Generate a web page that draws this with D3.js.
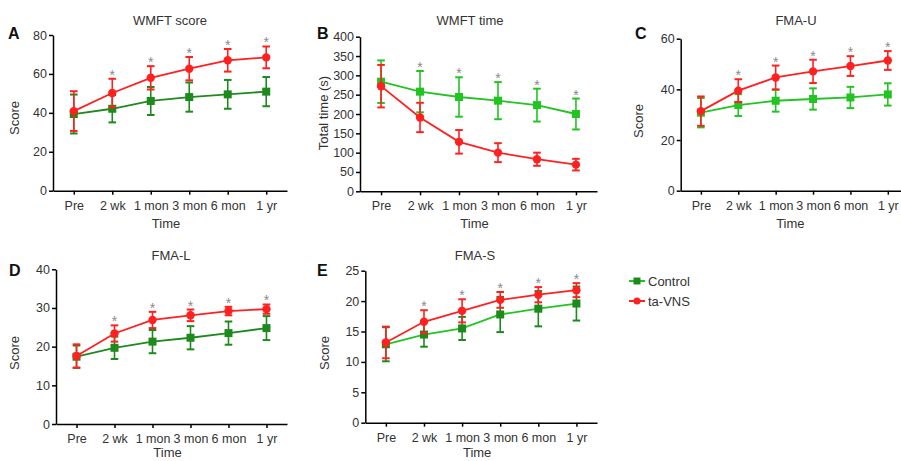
<!DOCTYPE html>
<html>
<head>
<meta charset="utf-8">
<script src="https://cdn.jsdelivr.net/npm/d3@7"></script>
<style>
  body { margin: 0; background: #fff; }
  svg { display: block; font-family: "Liberation Sans", Arial, sans-serif; }
</style>
</head>
<body>
<svg id="chart" width="901" height="461"></svg>
<script>
// time points and groups
const categories = ["Pre", "2 wk", "1 mon", "3 mon", "6 mon", "1 yr"];
const groups = ["Control", "ta-VNS"];

// A: WMFT score (mean, sd)
const wmftScoreCtrl = [39.4, 42.1, 46.1, 48.1, 49.5, 50.9];
const wmftScoreCtrlSd = [10.0, 7.0, 7.2, 7.5, 7.4, 7.5];
const wmftScoreVns = [40.9, 50.2, 58.0, 62.7, 67.0, 68.5];
const wmftScoreVnsSd = [10.2, 7.3, 6.0, 6.0, 5.8, 5.6];

// B: WMFT time
const wmftTimeCtrl = [283.6, 257.8, 244, 234.5, 223, 200];
const wmftTimeCtrlSd = [55, 53.5, 51, 48, 42.5, 40];
const wmftTimeVns = [272, 191, 128, 100, 83, 69];
const wmftTimeVnsSd = [55, 38, 30.5, 24.5, 17, 15];

// C: FMA-U
const fmaUCtrl = [30.8, 33.8, 35.5, 36.2, 36.8, 38.0];
const fmaUCtrlSd = [5.8, 4.3, 4.3, 4.2, 4.2, 4.4];
const fmaUVns = [31.4, 39.5, 44.7, 47.1, 49.2, 51.4];
const fmaUVnsSd = [5.8, 4.5, 4.7, 4.6, 3.9, 3.7];

// D: FMA-L
const fmaLCtrl = [17.4, 19.7, 21.3, 22.3, 23.5, 24.8];
const fmaLCtrlSd = [2.9, 2.9, 3.0, 3.0, 3.0, 3.1];
const fmaLVns = [17.6, 23.4, 26.9, 28.1, 29.2, 29.7];
const fmaLVnsSd = [3.0, 2.1, 2.1, 1.5, 1.1, 1.2];

// E: FMA-S
const fmaSCtrl = [12.9, 14.5, 15.5, 17.8, 18.75, 19.6];
const fmaSCtrlSd = [2.8, 2.0, 1.9, 2.9, 2.9, 2.8];
const fmaSVns = [13.2, 16.6, 18.4, 20.2, 21.05, 21.8];
const fmaSVnsSd = [2.6, 1.9, 1.9, 1.3, 1.25, 1.15];

// significance marks (true = *)
const sig = [false, true, true, true, true, true];

const red = "#ff2020";
const greenDark = "#1e8a1e";
const greenLight = "#22c422";
const textCol = "#333";

const panels = [
  {letter: "A", title: "WMFT score", ylab: "Score", yTicks: [0, 20, 40, 60, 80],
   ctrl: wmftScoreCtrl, ctrlSd: wmftScoreCtrlSd, vns: wmftScoreVns, vnsSd: wmftScoreVnsSd,
   ax: 53, ex: 287, top: 35, bot: 190.7, tx: 170, ty: 25, lx: 8, ly: 38.5, yl: [14.5, 118], tl: 228,
   cLine: greenDark, cMark: greenDark},
  {letter: "B", title: "WMFT time", ylab: "Total time (s)", yTicks: d3.range(0, 401, 50),
   ctrl: wmftTimeCtrl, ctrlSd: wmftTimeCtrlSd, vns: wmftTimeVns, vnsSd: wmftTimeVnsSd,
   ax: 360, ex: 597, top: 36.7, bot: 191.3, tx: 470, ty: 25, lx: 317, ly: 38.5, yl: [323, 113], tl: 228,
   cLine: greenLight, cMark: greenLight},
  {letter: "C", title: "FMA-U", ylab: "Score", yTicks: [0, 20, 40, 60],
   ctrl: fmaUCtrl, ctrlSd: fmaUCtrlSd, vns: fmaUVns, vnsSd: fmaUVnsSd,
   ax: 680.7, ex: 908, top: 38.7, bot: 190.7, tx: 796, ty: 25, lx: 635, ly: 39, yl: [638.5, 121], tl: 228,
   cLine: greenLight, cMark: greenLight},
  {letter: "D", title: "FMA-L", ylab: "Score", yTicks: [0, 10, 20, 30, 40],
   ctrl: fmaLCtrl, ctrlSd: fmaLCtrlSd, vns: fmaLVns, vnsSd: fmaLVnsSd,
   ax: 56, ex: 287, top: 269.3, bot: 424, tx: 171, ty: 259.5, lx: 9, ly: 275.5, yl: [14.5, 353], tl: 457,
   cLine: greenDark, cMark: greenDark},
  {letter: "E", title: "FMA-S", ylab: "Score", yTicks: [0, 5, 10, 15, 20, 25],
   ctrl: fmaSCtrl, ctrlSd: fmaSCtrlSd, vns: fmaSVns, vnsSd: fmaSVnsSd,
   ax: 365.3, ex: 597, top: 270.7, bot: 422.7, tx: 475, ty: 259.5, lx: 317, ly: 276, yl: [324, 353], tl: 457,
   cLine: greenLight, cMark: greenDark}
];

const svg = d3.select("#chart");

panels.forEach(p => {
  const g = svg.append("g");
  const yMax = d3.max(p.yTicks);
  const x = d3.scalePoint().domain(categories).range([p.ax, p.ex]).padding(0.54);
  const y = d3.scaleLinear().domain([0, yMax]).range([p.bot, p.top]);

  // axes
  const xa = g.append("g").attr("transform", `translate(0,${p.bot})`)
    .call(d3.axisBottom(x).tickSize(4).tickSizeOuter(0).tickPadding(6));
  const ya = g.append("g").attr("transform", `translate(${p.ax},0)`)
    .call(d3.axisLeft(y).tickValues(p.yTicks).tickSize(4).tickSizeOuter(0).tickPadding(2));
  [xa, ya].forEach(a => {
    a.selectAll("path, line").attr("stroke", "#000").attr("stroke-width", 1.5);
    a.selectAll("text").attr("font-size", 12.5).attr("fill", textCol)
      .attr("font-family", "Liberation Sans, Arial, sans-serif");
  });

  // titles
  g.append("text").attr("x", p.tx).attr("y", p.ty).attr("text-anchor", "middle")
    .attr("font-size", 13).attr("fill", textCol).text(p.title);
  g.append("text").attr("x", p.lx).attr("y", p.ly).attr("font-size", 16)
    .attr("font-weight", "bold").attr("fill", "#111").text(p.letter);
  g.append("text").attr("transform", `translate(${p.yl[0]},${p.yl[1]}) rotate(-90)`)
    .attr("text-anchor", "middle").attr("dominant-baseline", "central")
    .attr("font-size", 13).attr("fill", textCol).text(p.ylab);
  g.append("text").attr("x", (p.ax + p.ex) / 2 - 4).attr("y", p.tl)
    .attr("text-anchor", "middle").attr("font-size", 13).attr("fill", textCol).text("Time");

  const series = [
    {m: p.ctrl, sd: p.ctrlSd, line: p.cLine, mark: p.cMark, shape: "square"},
    {m: p.vns, sd: p.vnsSd, line: red, mark: red, shape: "circle"}
  ];

  series.forEach(s => {
    const pts = categories.map((c, i) => ({c, v: s.m[i], sd: s.sd[i]}));
    g.append("path").datum(pts)
      .attr("fill", "none").attr("stroke", s.line).attr("stroke-width", 1.8)
      .attr("d", d3.line().x(d => x(d.c)).y(d => y(d.v)));

    const eb = g.append("g").attr("stroke", s.mark).attr("stroke-width", 1.6);
    eb.selectAll("line.v").data(pts).join("line")
      .attr("x1", d => x(d.c)).attr("x2", d => x(d.c))
      .attr("y1", d => y(d.v - d.sd)).attr("y2", d => y(d.v + d.sd));
    eb.selectAll("line.t").data(pts).join("line").attr("stroke-width", 2)
      .attr("x1", d => x(d.c) - 3.8).attr("x2", d => x(d.c) + 3.8)
      .attr("y1", d => y(d.v + d.sd)).attr("y2", d => y(d.v + d.sd));
    eb.selectAll("line.b").data(pts).join("line").attr("stroke-width", 2)
      .attr("x1", d => x(d.c) - 3.8).attr("x2", d => x(d.c) + 3.8)
      .attr("y1", d => y(d.v - d.sd)).attr("y2", d => y(d.v - d.sd));

    if (s.shape === "square") {
      g.selectAll(null).data(pts).join("rect")
        .attr("x", d => x(d.c) - 4).attr("y", d => y(d.v) - 4)
        .attr("width", 8).attr("height", 8).attr("fill", s.mark);
    } else {
      g.selectAll(null).data(pts).join("circle")
        .attr("cx", d => x(d.c)).attr("cy", d => y(d.v)).attr("r", 4.2).attr("fill", s.mark);
    }
  });

  // asterisks above the highest error bar
  categories.forEach((c, i) => {
    if (!sig[i]) return;
    const topVal = Math.max(p.ctrl[i] + p.ctrlSd[i], p.vns[i] + p.vnsSd[i]);
    g.append("text").attr("x", x(c)).attr("y", y(topVal) + 1)
      .attr("text-anchor", "middle").attr("font-size", 14).attr("fill", "#8a8a8a").text("*");
  });
});

// legend
const legend = svg.append("g").attr("transform", "translate(629,281)");
const legItems = [
  {name: groups[0], line: greenLight, mark: greenDark, shape: "square"},
  {name: groups[1], line: red, mark: red, shape: "circle"}
];
legItems.forEach((d, i) => {
  const row = legend.append("g").attr("transform", `translate(0,${i * 20})`);
  row.append("line").attr("x1", 0).attr("x2", 16).attr("stroke", d.line).attr("stroke-width", 2);
  if (d.shape === "square") {
    row.append("rect").attr("x", 4.5).attr("y", -3.5).attr("width", 7).attr("height", 7).attr("fill", d.mark);
  } else {
    row.append("circle").attr("cx", 8).attr("cy", 0).attr("r", 3.5).attr("fill", d.mark);
  }
  row.append("text").attr("x", 19).attr("y", 0).attr("dominant-baseline", "central")
    .attr("font-size", 13).attr("fill", textCol).text(d.name);
});
</script>
</body>
</html>
